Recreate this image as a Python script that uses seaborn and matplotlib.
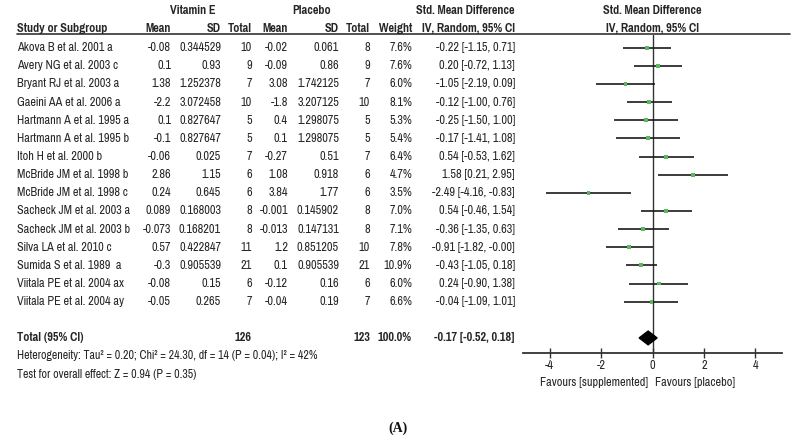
import matplotlib
matplotlib.use("Agg")
import matplotlib.pyplot as plt
import seaborn as sns
import pandas as pd

# ---------------- data ----------------
studies = ["Akova B et al. 2001 a", "Avery NG et al. 2003 c", "Bryant RJ et al. 2003 a",
           "Gaeini AA et al. 2006 a", "Hartmann A et al. 1995 a", "Hartmann A et al. 1995 b",
           "Itoh H et al. 2000 b", "McBride JM et al. 1998 b", "McBride JM et al. 1998 c",
           "Sacheck JM et al. 2003 a", "Sacheck JM et al. 2003 b", "Silva LA et al. 2010 c",
           "Sumida S et al. 1989  a", "Viitala PE et al. 2004 ax", "Viitala PE et al. 2004 ay"]
ve_mean = [-0.08, 0.1, 1.38, -2.2, 0.1, -0.1, -0.06, 2.86, 0.24, 0.089, -0.073, 0.57, -0.3, -0.08, -0.05]
ve_sd = [0.344529, 0.93, 1.252378, 3.072458, 0.827647, 0.827647, 0.025, 1.15, 0.645,
         0.168003, 0.168201, 0.422847, 0.905539, 0.15, 0.265]
ve_n = [10, 9, 7, 10, 5, 5, 7, 6, 6, 8, 8, 11, 21, 6, 7]
pl_mean = [-0.02, -0.09, 3.08, -1.8, 0.4, 0.1, -0.27, 1.08, 3.84, -0.001, -0.013, 1.2, 0.1, -0.12, -0.04]
pl_sd = [0.061, 0.86, 1.742125, 3.207125, 1.298075, 1.298075, 0.51, 0.918, 1.77,
         0.145902, 0.147131, 0.851205, 0.905539, 0.16, 0.19]
pl_n = [8, 9, 7, 10, 5, 5, 7, 6, 6, 8, 8, 10, 21, 6, 7]
weight = [7.6, 7.6, 6.0, 8.1, 5.3, 5.4, 6.4, 4.7, 3.5, 7.0, 7.1, 7.8, 10.9, 6.0, 6.6]
smd = [-0.22, 0.20, -1.05, -0.12, -0.25, -0.17, 0.54, 1.58, -2.49, 0.54, -0.36, -0.91, -0.43, 0.24, -0.04]
ci_lo = [-1.15, -0.72, -2.19, -1.00, -1.50, -1.41, -0.53, 0.21, -4.16, -0.46, -1.35, -1.82, -1.05, -0.90, -1.09]
ci_hi = [0.71, 1.13, 0.09, 0.76, 1.00, 1.08, 1.62, 2.95, -0.83, 1.54, 0.63, -0.0, 0.18, 1.38, 1.01]

total_ve_n = 126
total_pl_n = 123
total_weight = 100.0
total_smd = -0.17
total_lo = -0.52
total_hi = 0.18

xticks = [-4, -2, 0, 2, 4]
het_text = "Heterogeneity: Tau² = 0.20; Chi² = 24.30, df = 14 (P = 0.04); I² = 42%"
eff_text = "Test for overall effect: Z = 0.94 (P = 0.35)"

# ---------------- style ----------------
sns.set_theme(style="white")
FAM = ["Pragati Narrow", "PT Sans Narrow", "Archivo Narrow", "DejaVu Sans"]
plt.rcParams["font.family"] = FAM
plt.rcParams["axes.unicode_minus"] = False
TC = "#262626"
FS = 9.6

W, H = 795, 440
fig = plt.figure(figsize=(W / 100, H / 100), dpi=100)
bg = fig.add_axes([0, 0, 1, 1])
bg.set_xlim(0, W)
bg.set_ylim(H, 0)
bg.axis("off")

ROW0, ROWH = 47.7, 18.14
def ypix(r):
    return ROW0 + ROWH * r

def t(x, y, s, ha="left", bold=False, size=FS, **kw):
    bg.text(x, y, s, ha=ha, va="center", fontsize=size, color=TC,
            fontweight="bold" if bold else "normal", **kw)

# header
t(193, 10, "Vitamin E", ha="center", bold=True)
t(312, 10, "Placebo", ha="center", bold=True)
t(465, 10, "Std. Mean Difference", ha="center", bold=True)
t(652, 10, "Std. Mean Difference", ha="center", bold=True)
hy = 28
t(17, hy, "Study or Subgroup", bold=True)
for x, s in [(171, "Mean"), (221, "SD"), (252, "Total"), (288, "Mean"), (339, "SD"),
             (370, "Total"), (412, "Weight"), (515, "IV, Random, 95% CI")]:
    t(x, hy, s, ha="right", bold=True)
t(652, hy, "IV, Random, 95% CI", ha="center", bold=True)
bg.plot([17, 790], [34, 34], color="#333333", lw=1.2)

# rows
for i, name in enumerate(studies):
    y = ypix(i)
    t(17, y, name)
    t(171, y, f"{ve_mean[i]}", ha="right")
    t(221, y, f"{ve_sd[i]}", ha="right")
    t(252, y, f"{ve_n[i]}", ha="right")
    t(288, y, f"{pl_mean[i]}", ha="right")
    t(339, y, f"{pl_sd[i]}", ha="right")
    t(370, y, f"{pl_n[i]}", ha="right")
    t(412, y, f"{weight[i]:.1f}%", ha="right")
    t(515, y, f"{smd[i]:.2f} [{ci_lo[i]:.2f}, {ci_hi[i]:.2f}]", ha="right")

# total
yt = ypix(16)
t(17, yt, "Total (95% CI)", bold=True)
t(252, yt, f"{total_ve_n}", ha="right", bold=True)
t(370, yt, f"{total_pl_n}", ha="right", bold=True)
t(412, yt, f"{total_weight:.1f}%", ha="right", bold=True)
t(515, yt, f"{total_smd:.2f} [{total_lo:.2f}, {total_hi:.2f}]", ha="right", bold=True)
t(17, 355.7, het_text, size=9.3)
t(17, 374.3, eff_text, size=9.3)

t(648, 382.7, "Favours [supplemented]", ha="right")
t(655, 382.7, "Favours [placebo]", ha="left")
bg.text(398, 428, "(A)", ha="center", va="center", fontsize=10, fontweight="bold",
        family=["Liberation Serif", "DejaVu Serif"], color="#111111")

# ---------------- forest axes ----------------
ZERO, UNIT = 652.5, 25.7
xl = (523 - ZERO) / UNIT
xr = (782 - ZERO) / UNIT
ytop_pix, ybot_pix = 35, 353
ax = fig.add_axes([523 / W, 1 - ybot_pix / H, (782 - 523) / W, (ybot_pix - ytop_pix) / H])
ax.set_facecolor("none")
ax.set_xlim(xl, xr)
ax.set_ylim((ybot_pix - ROW0) / ROWH, (ytop_pix - ROW0) / ROWH)

df = pd.DataFrame({"row": list(range(len(studies))), "smd": smd, "lo": ci_lo,
                   "hi": ci_hi, "w": weight})
ax.axvline(0, color="#333333", lw=1.0, zorder=1)
ax.hlines(df["row"], df["lo"], df["hi"], color="#1a1a1a", lw=1.2, zorder=2)
sns.scatterplot(data=df, x="smd", y="row", marker="s", s=8, color="#5cb85c",
                edgecolor="none", ax=ax, zorder=3, legend=False)
ax.fill([total_lo, total_smd, total_hi, total_smd],
        [16, 16 - 0.38, 16, 16 + 0.38], color="black", zorder=4)

for side in ["top", "left", "right"]:
    ax.spines[side].set_visible(False)
ax.spines["bottom"].set_color("#333333")
ax.spines["bottom"].set_linewidth(1.3)
ax.set_yticks([])
ax.set_xticks(xticks)
ax.set_xticklabels([str(v) for v in xticks])
ax.tick_params(axis="x", direction="inout", length=7, width=1.0, color="#333333",
               labelsize=FS, labelcolor=TC, pad=1.5, bottom=True)
ax.set_xlabel("")
ax.set_ylabel("")
ax.grid(False)

fig.savefig("out.png", dpi=100)
